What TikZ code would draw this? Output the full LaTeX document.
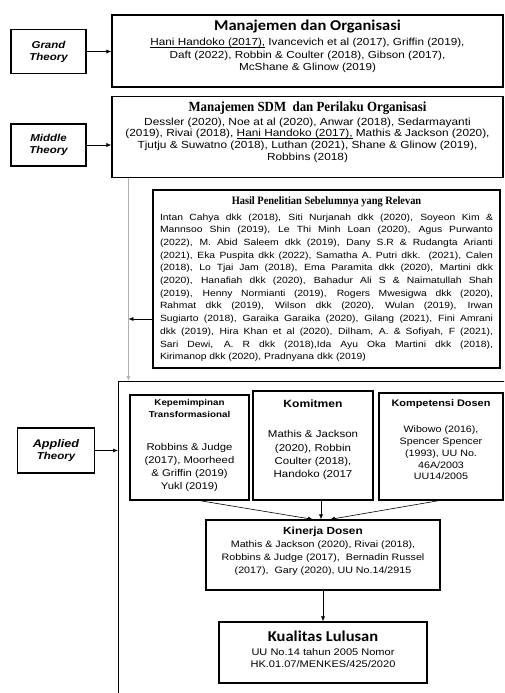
\documentclass[tikz,border=0pt]{standalone}
\usepackage{fontspec}
\setmainfont{Liberation Sans}
\newfontfamily\af[FakeStretch=1.15]{Liberation Sans}
\newfontfamily\tf[FakeStretch=0.92]{Liberation Serif}
\newfontfamily\cf[FakeStretch=1.1]{Carlito}
\usetikzlibrary{arrows.meta}
\newcommand\jl[1]{\hbox to \hsize{#1}}
\newcommand\cl[1]{\hbox to \hsize{\hfil#1\hfil}}
\newcommand\bx[4]{\parbox[c][#2][t]{#1}{\vspace*{#3}\centering #4\par}}
\newcommand\ulin[1]{\leavevmode\setbox0\hbox{#1}\rlap{\rule[-1.7pt]{\wd0}{0.6pt}}\box0\relax}
\begin{document}
\begin{tikzpicture}[x=1pt,y=-1pt,
  box/.style={draw,line width=1.2pt,inner sep=0pt,font=\af\fontsize{9.3}{12.5}\selectfont},
  theory/.style={draw,line width=1.5pt,inner sep=0pt,align=center,
    font=\af\bfseries\itshape\fontsize{10}{12}\selectfont},
  arr/.style={-{Latex[length=5pt,width=4pt]},line width=0.6pt}]
\useasboundingbox (0,0) rectangle (504,693);
\clip (0,0) rectangle (504,693);

% theory labels
\node[theory,minimum width=75pt,minimum height=44pt] (gt) at (48.5,51.5) {Grand\\Theory};
\node[theory,minimum width=75pt,minimum height=42pt] (mt) at (48.5,145) {Middle\\Theory};
\node[theory,minimum width=77pt,minimum height=45pt] (apt) at (56,450.5) {\fontsize{11}{13}\selectfont Applied\\Theory};

% top boxes
\node[box] (org) at (307.5,51) {\bx{391pt}{72pt}{5pt}{%
  \fontsize{10.2}{12.3}\selectfont
  {\cf\bfseries\fontsize{15}{15}\selectfont Manajemen dan Organisasi}\\[3pt]
  \ulin{Hani Handoko (2017),} Ivancevich et al (2017), Griffin (2019),\\
  Daft (2022), Robbin \& Coulter (2018), Gibson (2017),\\
  McShane \& Glinow (2019)}};

\node[box] (sdm) at (307.5,137) {\bx{391pt}{81pt}{5pt}{%
  \fontsize{10.3}{11.8}\selectfont
  {\tf\bfseries\fontsize{14}{14}\selectfont Manajemen SDM\ \ dan Perilaku Organisasi}\\[2pt]
  Dessler (2020), Noe at al (2020), Anwar (2018), Sedarmayanti\\
  (2019), Rivai (2018), \ulin{Hani Handoko (2017),} Mathis \& Jackson (2020),\\
  Tjutju \& Suwatno (2018), Luthan (2021), Shane \& Glinow (2019),\\
  Robbins (2018)}};

\node[box,inner xsep=7pt] (hasil) at (326.5,279) {\parbox[c][178pt][t]{333pt}{%
  \fontsize{9}{12.7}\selectfont
  \vspace*{7pt}
  \cl{\tf\bfseries\fontsize{11.3}{12}\selectfont Hasil Penelitian Sebelumnya yang Relevan}
  \vskip 2.5pt
  \jl{Intan Cahya dkk (2018), Siti Nurjanah dkk (2020), Soyeon Kim \&}
  \jl{Mannsoo Shin (2019), Le Thi Minh Loan (2020), Agus Purwanto}
  \jl{(2022), M. Abid Saleem dkk (2019), Dany S.R \& Rudangta Arianti}
  \jl{(2021), Eka Puspita dkk (2022), Samatha A. Putri dkk. (2021), Calen}
  \jl{(2018), Lo Tjai Jam (2018), Ema Paramita dkk (2020), Martini dkk}
  \jl{(2020), Hanafiah dkk (2020), Bahadur Ali S \& Naimatullah Shah}
  \jl{(2019), Henny Normianti (2019), Rogers Mwesigwa dkk (2020),}
  \jl{Rahmat dkk (2019), Wilson dkk (2020), Wulan (2019), Irwan}
  \jl{Sugiarto (2018), Garaika Garaika (2020), Gilang (2021), Fini Amrani}
  \jl{dkk (2019), Hira Khan et al (2020), Dilham, A. \& Sofiyah, F (2021),}
  \jl{Sari Dewi, A. R dkk (2018),Ida Ayu Oka Martini dkk (2018),}
  \hbox{Kirimanop dkk (2020), Pradnyana dkk (2019)}}};

% applied frame
\node[draw,line width=1.4pt,inner sep=0pt,anchor=north west,minimum width=430pt,minimum height=360pt] (applied) at (118,381) {};

\node[box] (kep) at (189.5,447.5) {\bx{119pt}{105pt}{4.5pt}{%
  {\fontsize{8.5}{12}\selectfont\bfseries Kepemimpinan\\Transformasional\par}
  \vspace{20pt}
  \fontsize{9.8}{13}\selectfont
  Robbins \& Judge\\(2017), Moorheed\\\& Griffin (2019)\\Yukl (2019)}};

\node[box] (kom) at (313,445.5) {\bx{120pt}{109pt}{9pt}{%
  {\fontsize{10.5}{12}\selectfont\bfseries Komitmen\par}
  \vspace{17pt}
  \fontsize{10}{13.3}\selectfont
  Mathis \& Jackson\\(2020), Robbin\\Coulter (2018),\\Handoko (2017}};

\node[box] (komp) at (441,446.5) {\bx{124pt}{107pt}{7pt}{%
  \fontsize{9.3}{11.8}\selectfont
  {\fontsize{9.5}{11}\selectfont\bfseries Kompetensi Dosen\par}
  \vspace{14pt}
  Wibowo (2016),\\Spencer Spencer\\(1993), UU No.\\46A/2003\\UU14/2005}};

\node[box] (kin) at (323,555) {\bx{234pt}{70pt}{7pt}{%
  \fontsize{9.3}{13}\selectfont
  {\bfseries\fontsize{10.3}{13}\selectfont Kinerja Dosen}\\
  Mathis \& Jackson (2020), Rivai (2018),\\
  Robbins \& Judge (2017),\ \ Bernadin Russel\\
  (2017),\ \ Gary (2020), UU No.14/2915}};

\node[box] (kual) at (323,652.5) {\bx{208pt}{61pt}{8.5pt}{%
  \fontsize{9.6}{12}\selectfont
  {\cf\bfseries\fontsize{15}{16}\selectfont Kualitas Lulusan}\\[2pt]
  UU No.14 tahun 2005 Nomor\\
  HK.01.07/MENKES/425/2020}};

% connectors
\draw[arr] (gt) -- (gt -| org.west);
\draw[arr] (mt) -- (mt -| sdm.west);
\draw[arr] (apt) -- (apt -| applied.west);

\coordinate (gtop) at ([xshift=17pt]sdm.south west);
\draw[arr,draw=gray!60,line width=1.2pt] (gtop) -- (gtop |- applied.north);
\coordinate (hsrc) at ([yshift=-40pt]hasil.west);
\draw[arr] (hsrc) -- (hsrc -| gtop);

\coordinate (kt1) at ([xshift=-10pt]kin.north);
\coordinate (kt2) at ([xshift=-2pt]kin.north);
\coordinate (kt3) at ([xshift=7pt]kin.north);
\draw[arr] ([xshift=10pt]kep.south) -- (kt1);
\draw[arr] (kt2 |- kom.south) -- (kt2);
\draw[arr] ([xshift=-2pt]komp.south) -- (kt3);
\draw[arr] (kin.south) -- (kual.north);
\end{tikzpicture}
\end{document}
